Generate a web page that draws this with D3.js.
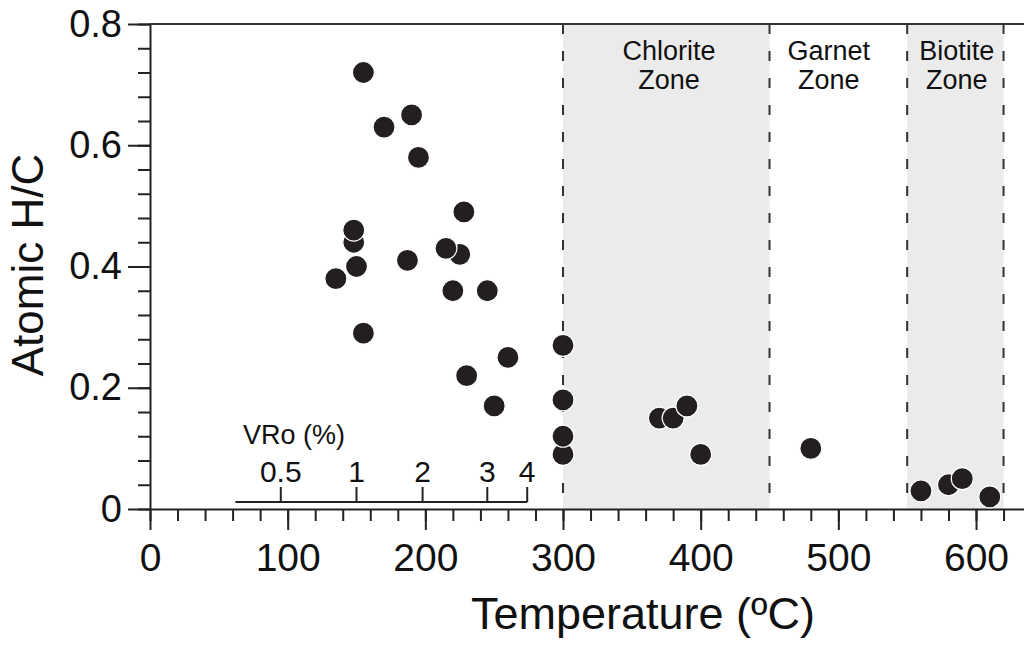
<!DOCTYPE html>
<html>
<head>
<meta charset="utf-8">
<script src="https://cdn.jsdelivr.net/npm/d3@7"></script>
<style>
  html, body { margin: 0; padding: 0; background: #fff; }
  svg { display: block; }
  svg text { font-family: "Liberation Sans", Arial, sans-serif; }
</style>
</head>
<body>
<div class="chart"></div>
<script>
// atomic H/C vs temperature, with metamorphic zones
const temps = [155, 170, 190, 195, 135, 150, 148, 148, 155, 187, 225, 215, 228, 220, 245,
  230, 260, 250, 300, 300, 300, 300, 370, 380, 390, 400, 480, 560, 580, 590, 610];
const hc = [0.72, 0.63, 0.65, 0.58, 0.38, 0.40, 0.44, 0.46, 0.29, 0.41, 0.42, 0.43, 0.49, 0.36, 0.36,
  0.22, 0.25, 0.17, 0.27, 0.18, 0.09, 0.12, 0.15, 0.15, 0.17, 0.09, 0.10, 0.03, 0.04, 0.05, 0.02];

const zoneBounds = [300, 450, 550, 620];
const shadedZones = [[300, 450], [550, 620]];
const zoneNames = ["Chlorite", "Garnet", "Biotite"];
const zoneLabelTemps = [377, 493, 586];

// vitrinite reflectance scale drawn against temperature
const vroTicks = [0.5, 1, 2, 3, 4];
const vroTemps = [95, 150, 198, 245, 274];
const vroStart = 62;

const xMajor = [0, 100, 200, 300, 400, 500, 600];
const yMajor = [0, 0.2, 0.4, 0.6, 0.8];

const width = 1024, height = 648;
const ink = "#222";

const svg = d3.select(".chart").append("svg")
  .attr("width", width)
  .attr("height", height);

const x = d3.scaleLinear().domain([0, 635]).range([150, 1024.2]);
const y = d3.scaleLinear().domain([0, 0.8]).range([509, 24]);

// grey zones
svg.selectAll("rect.zone")
  .data(shadedZones)
  .join("rect")
  .attr("class", "zone")
  .attr("x", d => x(d[0]))
  .attr("width", d => x(d[1]) - x(d[0]))
  .attr("y", y(0.8))
  .attr("height", y(0) - y(0.8))
  .attr("fill", "#ebebeb");

// dashed boundaries
svg.selectAll("line.bound")
  .data(zoneBounds)
  .join("line")
  .attr("class", "bound")
  .attr("x1", d => x(d)).attr("x2", d => x(d))
  .attr("y1", y(0.8)).attr("y2", y(0))
  .attr("stroke", "#333")
  .attr("stroke-width", 2)
  .attr("stroke-dasharray", "10,17");

// zone labels
const zoneText = svg.selectAll("text.zname")
  .data(zoneNames)
  .join("text")
  .attr("class", "zname")
  .attr("text-anchor", "middle")
  .attr("font-size", 27)
  .attr("fill", "#111")
  .attr("transform", (d, i) => "translate(" + x(zoneLabelTemps[i]) + ",60)");
zoneText.append("tspan").attr("x", 0).attr("y", 0).text(d => d);
zoneText.append("tspan").attr("x", 0).attr("y", 29).text("Zone");

// top frame
svg.append("line")
  .attr("x1", x(0)).attr("x2", width)
  .attr("y1", y(0.8)).attr("y2", y(0.8))
  .attr("stroke", "#333")
  .attr("stroke-width", 2);

// axes: minor first, then major with labels
const xMinor = svg.append("g")
  .attr("transform", "translate(0," + y(0) + ")")
  .call(d3.axisBottom(x).tickValues(d3.range(0, 621, 20)).tickSize(12).tickSizeOuter(0).tickFormat(""));
const xAxis = svg.append("g")
  .attr("transform", "translate(0," + y(0) + ")")
  .call(d3.axisBottom(x).tickValues(xMajor).tickSize(21).tickSizeOuter(0).tickPadding(13));
xAxis.select(".domain").remove();

const yMinor = svg.append("g")
  .attr("transform", "translate(" + x(0) + ",0)")
  .call(d3.axisLeft(y).tickValues(d3.range(0, 0.81, 0.04)).tickSize(12).tickSizeOuter(0).tickFormat(""));
const yAxis = svg.append("g")
  .attr("transform", "translate(" + x(0) + ",0)")
  .call(d3.axisLeft(y).tickValues(yMajor).tickSize(22).tickSizeOuter(0).tickPadding(6)
    .tickFormat(d => d === 0 ? "0" : d3.format(".1f")(d)));
yAxis.select(".domain").remove();

[xMinor, xAxis, yMinor, yAxis].forEach(g => {
  g.attr("font-family", null).attr("font-size", null);
  g.selectAll("path, line").attr("stroke", ink).attr("stroke-width", 2);
  g.selectAll("text").attr("fill", "#111");
});
xAxis.selectAll("text").attr("font-size", 39);
yAxis.selectAll("text").attr("font-size", 38);

// VRo scale near the bottom
const vro = svg.append("g").attr("transform", "translate(0," + (y(0) - 7) + ")");
vro.append("line")
  .attr("x1", x(vroStart)).attr("x2", x(vroTemps[vroTemps.length - 1]))
  .attr("stroke", ink).attr("stroke-width", 2);
vro.selectAll("line.vt")
  .data(vroTemps)
  .join("line")
  .attr("class", "vt")
  .attr("x1", d => x(d)).attr("x2", d => x(d))
  .attr("y1", 0).attr("y2", -15)
  .attr("stroke", ink).attr("stroke-width", 2);
vro.selectAll("text.vl")
  .data(vroTicks)
  .join("text")
  .attr("class", "vl")
  .attr("x", (d, i) => x(vroTemps[i]))
  .attr("y", -20)
  .attr("text-anchor", "middle")
  .attr("font-size", 30)
  .attr("fill", "#111")
  .text(d => d);
vro.append("text")
  .attr("x", 243)
  .attr("y", -58)
  .attr("font-size", 27)
  .attr("fill", "#111")
  .text("VRo (%)");

// the samples
svg.selectAll("circle.pt")
  .data(temps)
  .join("circle")
  .attr("class", "pt")
  .attr("cx", d => x(d))
  .attr("cy", (d, i) => y(hc[i]))
  .attr("r", 11)
  .attr("fill", "#231f20")
  .attr("stroke", "#fff")
  .attr("stroke-width", 1.2);

// axis titles
svg.append("text")
  .attr("x", 643)
  .attr("y", 629)
  .attr("text-anchor", "middle")
  .attr("font-size", 45)
  .attr("fill", "#111")
  .text("Temperature (ºC)");

svg.append("text")
  .attr("transform", "translate(43,265) rotate(-90)")
  .attr("text-anchor", "middle")
  .attr("font-size", 44)
  .attr("fill", "#111")
  .text("Atomic H/C");
</script>
</body>
</html>
